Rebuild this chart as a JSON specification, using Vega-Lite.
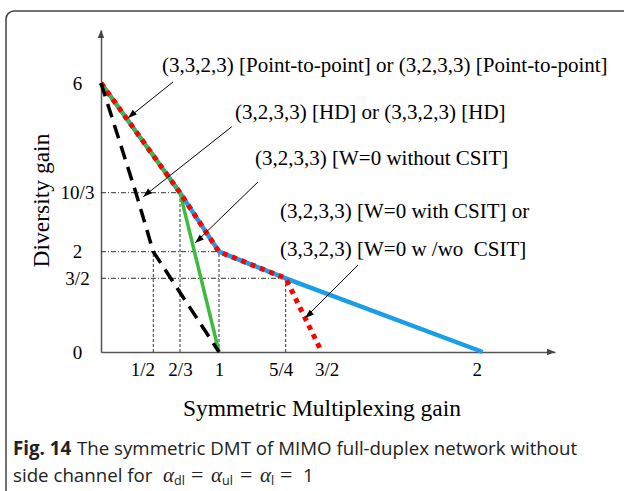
{
  "$schema": "https://vega.github.io/schema/vega-lite/v6.json",
  "width": 454,
  "height": 322,
  "autosize": {"type": "none"},
  "padding": {"left": 101, "top": 30, "right": 69, "bottom": 139},
  "background": "white",
  "config": {
    "view": {"stroke": null},
    "axis": {
      "grid": false, "ticks": false, "tickSize": 0,
      "domainColor": "#555", "domainWidth": 1.5,
      "labelFont": "Liberation Serif", "labelFontSize": 19, "labelColor": "black",
      "labelFlush": false, "labelOverlap": false, "labelBound": false,
      "titleFont": "Liberation Serif", "titleFontSize": 23.5, "titleFontWeight": "normal", "titleColor": "black"
    }
  },
  "datasets": {
    "curves": [
      {"s": "blue", "x": 0, "y": 6}, {"s": "blue", "x": 0.6666667, "y": 3.3333333}, {"s": "blue", "x": 1, "y": 2}, {"s": "blue", "x": 1.25, "y": 1.5}, {"s": "blue", "x": 2, "y": 0},
      {"s": "green", "x": 0, "y": 6}, {"s": "green", "x": 0.6666667, "y": 3.3333333}, {"s": "green", "x": 1, "y": 0},
      {"s": "red", "x": 0, "y": 6}, {"s": "red", "x": 0.6666667, "y": 3.3333333}, {"s": "red", "x": 1, "y": 2}, {"s": "red", "x": 1.25, "y": 1.5}, {"s": "red", "x": 1.5, "y": 0},
      {"s": "black", "x": 0, "y": 6}, {"s": "black", "x": 0.3333333, "y": 3.3333333}, {"s": "black", "x": 0.5, "y": 2}, {"s": "black", "x": 1, "y": 0}
    ],
    "hlines": [
      {"x": 0, "x2": 0.6666667, "y": 3.3333333},
      {"x": 0, "x2": 1, "y": 2},
      {"x": 0, "x2": 1.25, "y": 1.5}
    ],
    "vlines": [
      {"x": 0.5, "y": 0, "y2": 2},
      {"x": 0.6666667, "y": 0, "y2": 3.3333333},
      {"x": 1, "y": 0, "y2": 2},
      {"x": 1.25, "y": 0, "y2": 1.5}
    ],
    "notes": [
      {"x": 0.5543, "y": 6.2576, "label": "(3,3,2,3) [Point-to-point] or (3,2,3,3) [Point-to-point]"},
      {"x": 1.06, "y": 5.125, "label": "(3,2,3,3) [HD] or (3,3,2,3) [HD]"},
      {"x": 1.135, "y": 3.995, "label": "(3,2,3,3) [W=0 without CSIT]"},
      {"x": 1.2286, "y": 2.7615, "label": "(3,2,3,3) [W=0 with CSIT] or"},
      {"x": 1.2286, "y": 1.919, "label": "(3,3,2,3) [W=0 w /wo\u00a0 CSIT]"}
    ],
    "arrows": [
      {"x": 0.258, "y": 5.149, "x2": 0.623, "y2": 6.025},
      {"x": 0.404, "y": 3.243, "x2": 1.048, "y2": 4.938},
      {"x": 0.795, "y": 2.196, "x2": 1.146, "y2": 3.594},
      {"x": 1.384, "y": 0.692, "x2": 1.613, "y2": 1.75}
    ],
    "axisTips": [
      {"axis": "y", "x": 0, "y": 7.3},
      {"axis": "x", "x": 2.25, "y": 0}
    ],
    "frame": [
      {"x": -0.908, "x2": 3, "y": 7.766, "y2": -4}
    ],
    "caption": [
      {"kind": "bold", "text": "Fig. 14", "x": -0.841, "y": -2.0965},
      {"kind": "normal", "text": "The symmetric DMT of MIMO full-duplex network without", "x": -0.2294, "y": -2.0965},
      {"kind": "normal", "text": "side channel for", "x": -0.841, "y": -2.646},
      {"kind": "alpha", "text": "α", "x": 0.5606, "y": -2.646},
      {"kind": "sub", "text": "dl", "x": 0.6292, "y": -2.646},
      {"kind": "eq", "text": "=", "x": 0.7607, "y": -2.646},
      {"kind": "alpha", "text": "α", "x": 0.9316, "y": -2.646},
      {"kind": "sub", "text": "ul", "x": 1.0112, "y": -2.646},
      {"kind": "eq", "text": "=", "x": 1.0787, "y": -2.646},
      {"kind": "alpha", "text": "α", "x": 1.1537, "y": -2.646},
      {"kind": "sub", "text": "l", "x": 1.1949, "y": -2.646},
      {"kind": "eq", "text": "=", "x": 1.2286, "y": -2.646},
      {"kind": "normal", "text": "1", "x": 1.3701, "y": -2.646}
    ]
  },
  "encoding": {
    "x": {
      "field": "x", "type": "quantitative",
      "scale": {"domain": [0, 0.5, 0.6666667, 1, 1.25, 1.5, 2, 2.25], "range": [0, 52.3, 79, 118, 184.7, 220.7, 381.7, 454], "nice": false, "zero": false},
      "axis": {
        "title": "Symmetric Multiplexing gain",
        "values": [0.5, 0.6666667, 1, 1.25, 1.5, 2],
        "labelExpr": "datum.value == 0.5 ? '1/2' : datum.value < 0.7 ? '2/3' : datum.value == 1 ? '1' : datum.value == 1.25 ? '5/4' : datum.value == 1.5 ? '3/2' : '2'",
        "labelBaseline": "alphabetic", "labelPadding": 23,
        "labelOffset": {"condition": [{"test": "datum.value == 0.5", "value": -11}, {"test": "datum.value == 1.25", "value": -5}, {"test": "datum.value == 1.5", "value": 5}, {"test": "datum.value == 2", "value": -6}], "value": 0},
        "titleX": 220.5, "titleY": 63, "titleBaseline": "alphabetic", "titleAlign": "center"
      }
    },
    "y": {
      "field": "y", "type": "quantitative",
      "scale": {"domain": [0, 1.5, 2, 3.3333333, 6, 7.3], "range": [322, 248.3, 221.7, 162.7, 53, 0], "nice": false, "zero": false},
      "axis": {
        "title": "Diversity gain",
        "values": [0, 1.5, 2, 3.3333333, 6],
        "labelExpr": "datum.value == 0 ? '0' : datum.value == 1.5 ? '3/2' : datum.value == 2 ? '2' : datum.value < 4 ? '10/3' : '6'",
        "labelAlign": "center", "labelBaseline": "middle", "labelPadding": 24,
        "titleAngle": 270, "titleX": -53, "titleY": 170, "titleBaseline": "alphabetic", "titleAlign": "center"
      }
    }
  },
  "layer": [
    {
      "data": {"name": "frame"},
      "mark": {"type": "rect", "filled": false, "color": "#444", "strokeWidth": 1.5, "cornerRadius": 8},
      "encoding": {"x2": {"field": "x2"}, "y2": {"field": "y2"}}
    },
    {
      "data": {"name": "hlines"},
      "mark": {"type": "rule", "color": "#333", "strokeWidth": 1, "strokeDash": [5, 2, 1, 2]},
      "encoding": {"x2": {"field": "x2"}}
    },
    {
      "data": {"name": "vlines"},
      "mark": {"type": "rule", "color": "#333", "strokeWidth": 1, "strokeDash": [3, 2]},
      "encoding": {"y2": {"field": "y2"}}
    },
    {
      "data": {"name": "curves"},
      "transform": [{"filter": "datum.s == 'blue'"}],
      "mark": {"type": "line", "color": "#1a9ee6", "strokeWidth": 4.5},
      "encoding": {}
    },
    {
      "data": {"name": "curves"},
      "transform": [{"filter": "datum.s == 'green'"}],
      "mark": {"type": "line", "color": "#3dbb3d", "strokeWidth": 3.5},
      "encoding": {}
    },
    {
      "data": {"name": "curves"},
      "transform": [{"filter": "datum.s == 'red'"}],
      "mark": {"type": "line", "color": "#ff0000", "strokeWidth": 5, "strokeDash": [5, 5], "strokeCap": "butt"},
      "encoding": {}
    },
    {
      "data": {"name": "curves"},
      "transform": [{"filter": "datum.s == 'black'"}],
      "mark": {"type": "line", "color": "black", "strokeWidth": 3.5, "strokeDash": [14, 8]},
      "encoding": {}
    },
    {
      "data": {"name": "arrows"},
      "mark": {"type": "rule", "color": "black", "strokeWidth": 1},
      "encoding": {"x2": {"field": "x2"}, "y2": {"field": "y2"}}
    },
    {
      "data": {"name": "arrows"},
      "mark": {"type": "point", "shape": "M0,0L-0.35,1L0.35,1Z", "size": 324, "filled": true, "color": "black", "opacity": 1, "angle": 229}
    },
    {
      "data": {"name": "axisTips"},
      "transform": [{"filter": "datum.axis == 'y'"}],
      "mark": {"type": "point", "shape": "M0,0L-0.4,1L0.4,1Z", "size": 256, "filled": true, "color": "#444", "opacity": 1, "angle": 0}
    },
    {
      "data": {"name": "axisTips"},
      "transform": [{"filter": "datum.axis == 'x'"}],
      "mark": {"type": "point", "shape": "M0,0L-0.4,1L0.4,1Z", "size": 256, "filled": true, "color": "#444", "opacity": 1, "angle": 90}
    },
    {
      "data": {"name": "notes"},
      "mark": {"type": "text", "font": "Liberation Serif", "fontSize": 21, "align": "left", "baseline": "alphabetic", "color": "black"},
      "encoding": {"text": {"field": "label"}}
    },
    {
      "data": {"name": "caption"},
      "transform": [{"filter": "datum.kind == 'bold'"}],
      "mark": {"type": "text", "font": "Open Sans", "fontSize": 18.7, "fontWeight": "bold", "align": "left", "baseline": "alphabetic", "color": "#222"},
      "encoding": {"text": {"field": "text"}}
    },
    {
      "data": {"name": "caption"},
      "transform": [{"filter": "datum.kind == 'normal'"}],
      "mark": {"type": "text", "font": "Open Sans", "fontSize": 18.7, "align": "left", "baseline": "alphabetic", "color": "#222"},
      "encoding": {"text": {"field": "text"}}
    },
    {
      "data": {"name": "caption"},
      "transform": [{"filter": "datum.kind == 'alpha'"}],
      "mark": {"type": "text", "font": "Liberation Serif", "fontSize": 21, "fontStyle": "italic", "align": "left", "baseline": "alphabetic", "color": "#222"},
      "encoding": {"text": {"field": "text"}}
    },
    {
      "data": {"name": "caption"},
      "transform": [{"filter": "datum.kind == 'sub'"}],
      "mark": {"type": "text", "font": "Open Sans", "fontSize": 12.5, "align": "left", "baseline": "alphabetic", "dy": 3, "color": "#222"},
      "encoding": {"text": {"field": "text"}}
    },
    {
      "data": {"name": "caption"},
      "transform": [{"filter": "datum.kind == 'eq'"}],
      "mark": {"type": "text", "font": "Liberation Serif", "fontSize": 22, "align": "left", "baseline": "alphabetic", "color": "#222"},
      "encoding": {"text": {"field": "text"}}
    }
  ]
}
